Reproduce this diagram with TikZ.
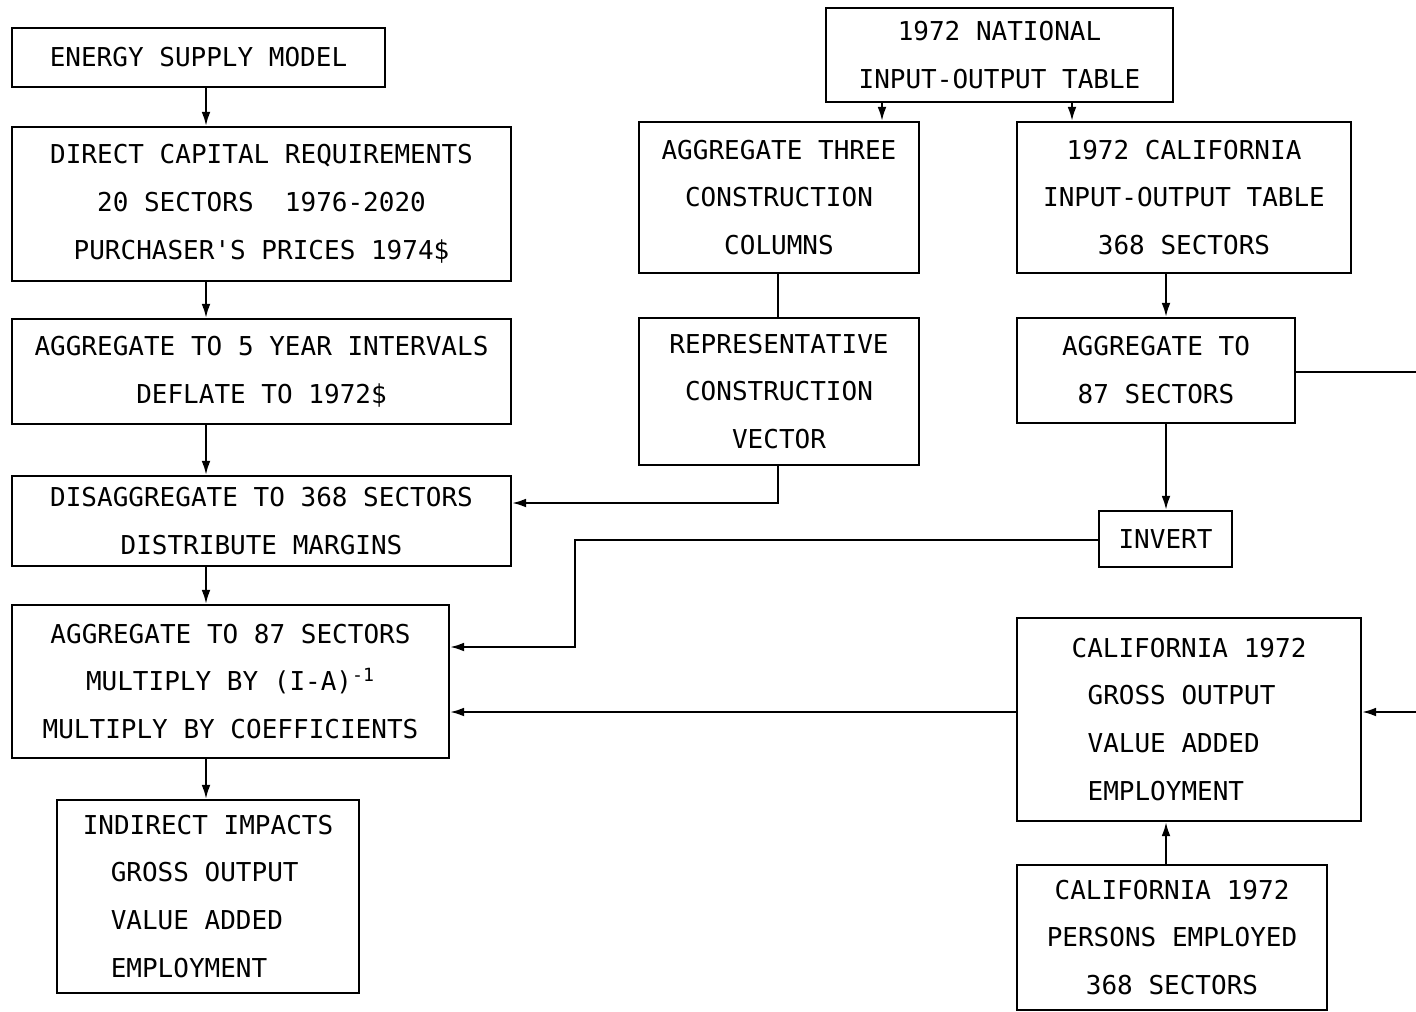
\documentclass[tikz,border=0pt]{standalone}
\usepackage{fontspec}
\newfontfamily\typewr{DejaVu Sans Mono}
\usetikzlibrary{arrows.meta}
\tikzset{
  blk/.style={draw, line width=1.2pt, inner sep=0pt, align=center,
    font=\typewr\fontsize{14.8}{27.3}\selectfont},
  arr/.style={-{Latex[length=8pt,width=5pt]}, line width=1.2pt},
  ln/.style={line width=1.2pt}
}
\begin{document}
\begin{tikzpicture}[x=0.02cm, y=-0.02cm]
  \useasboundingbox (0,0) rectangle (1416,1011);
  % left column
  \node[blk, minimum width=7.46cm, minimum height=1.18cm] (esm) at (198.5,57.5)
    {ENERGY SUPPLY MODEL};
  \node[blk, minimum width=9.98cm, minimum height=3.08cm] (dcr) at (261.5,204)
    {DIRECT CAPITAL REQUIREMENTS\\20 SECTORS\ \ 1976-2020\\PURCHASER'S PRICES 1974\$};
  \node[blk, minimum width=9.98cm, minimum height=2.10cm] (agg5) at (261.5,371.5)
    {AGGREGATE TO 5 YEAR INTERVALS\\DEFLATE TO 1972\$};
  \node[blk, minimum width=9.98cm, minimum height=1.80cm] (disagg) at (261.5,521)
    {DISAGGREGATE TO 368 SECTORS\\DISTRIBUTE MARGINS};
  \node[blk, minimum width=8.74cm, minimum height=3.06cm] (mult) at (230.5,681.5)
    {AGGREGATE TO 87 SECTORS\\MULTIPLY BY (I-A)\textsuperscript{-1}\\MULTIPLY BY COEFFICIENTS};
  \node[blk, align=left, minimum width=6.04cm, minimum height=3.86cm] (indir) at (208,896.5)
    {INDIRECT IMPACTS\\\hspace*{0.56cm}GROSS OUTPUT\\\hspace*{0.56cm}VALUE ADDED\\\hspace*{0.56cm}EMPLOYMENT};
  % national table and construction
  \node[blk, minimum width=6.94cm, minimum height=1.88cm] (nat) at (999.5,55)
    {1972 NATIONAL\\INPUT-OUTPUT TABLE};
  \node[blk, minimum width=5.60cm, minimum height=3.02cm] (agg3) at (779,197.5)
    {AGGREGATE THREE\\CONSTRUCTION\\COLUMNS};
  \node[blk, minimum width=5.60cm, minimum height=2.94cm] (repv) at (779,391.5)
    {REPRESENTATIVE\\CONSTRUCTION\\VECTOR};
  % california table
  \node[blk, minimum width=6.68cm, minimum height=3.02cm] (cal) at (1184,197.5)
    {1972 CALIFORNIA\\INPUT-OUTPUT TABLE\\368 SECTORS};
  \node[blk, minimum width=5.56cm, minimum height=2.10cm] (agg87) at (1156,370.5)
    {AGGREGATE TO\\87 SECTORS};
  \node[blk, minimum width=2.66cm, minimum height=1.12cm] (inv) at (1165.5,539)
    {INVERT};
  \node[blk, align=left, minimum width=6.88cm, minimum height=4.06cm] (calgo) at (1189,719.5)
    {CALIFORNIA 1972\\\hspace*{0.32cm}GROSS OUTPUT\\\hspace*{0.32cm}VALUE ADDED\\\hspace*{0.32cm}EMPLOYMENT};
  \node[blk, minimum width=6.20cm, minimum height=2.90cm] (pers) at (1172,937.5)
    {CALIFORNIA 1972\\PERSONS EMPLOYED\\368 SECTORS};
  % helper points
  \coordinate (spine) at (206,0);
  \coordinate (natL) at (882,0);
  \coordinate (natR) at (1072,0);
  \coordinate (colR) at (1166,0);
  \coordinate (j1) at (778,503);
  \coordinate (j2) at (575,540);
  \coordinate (j3) at (575,647);
  \coordinate (edgeA) at (1416,372);
  \coordinate (edgeB) at (1416,712);
  % connectors
  \draw[arr] (esm.south -| spine) -- (dcr.north -| spine);
  \draw[arr] (dcr.south -| spine) -- (agg5.north -| spine);
  \draw[arr] (agg5.south -| spine) -- (disagg.north -| spine);
  \draw[arr] (disagg.south -| spine) -- (mult.north -| spine);
  \draw[arr] (mult.south -| spine) -- (indir.north -| spine);
  \draw[arr] (nat.south -| natL) -- (agg3.north -| natL);
  \draw[arr] (nat.south -| natR) -- (cal.north -| natR);
  \draw[ln] (agg3.south -| j1) -- (repv.north -| j1);
  \draw[arr] (repv.south -| j1) -- (j1) -- (disagg.east |- j1);
  \draw[arr] (cal.south -| colR) -- (agg87.north -| colR);
  \draw[arr] (agg87.south -| colR) -- (inv.north -| colR);
  \draw[ln] (agg87.east |- edgeA) -- (edgeA);
  \draw[arr] (edgeB) -- (calgo.east |- edgeB);
  \draw[arr] (inv.west |- j2) -- (j2) -- (j3) -- (mult.east |- j3);
  \draw[arr] (calgo.west |- edgeB) -- (mult.east |- edgeB);
  \draw[arr] (pers.north -| colR) -- (calgo.south -| colR);
\end{tikzpicture}
\end{document}
